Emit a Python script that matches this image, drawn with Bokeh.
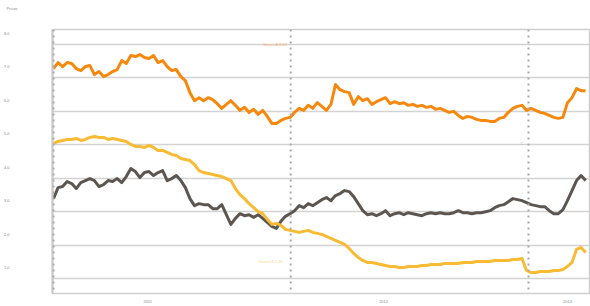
import pandas as pd
from bokeh.plotting import figure
from bokeh.models import Range1d, FixedTicker, Span, Label, Title
from bokeh.embed import file_html
from bokeh.resources import INLINE

# ---- data (weekly observations) ----
dates = pd.date_range("2011-01-01", periods=118, freq="7D")

orange = [7.28, 7.46, 7.34, 7.46, 7.43, 7.28, 7.22, 7.34, 7.37, 7.10,
          7.19, 7.04, 7.10, 7.19, 7.25, 7.52, 7.43, 7.67, 7.64, 7.70,
          7.61, 7.58, 7.67, 7.46, 7.52, 7.34, 7.22, 7.25, 7.04, 6.92,
          6.56, 6.32, 6.41, 6.32, 6.41, 6.35, 6.23, 6.09, 6.21, 6.32,
          6.18, 6.03, 6.12, 5.97, 6.06, 5.91, 6.03, 5.85, 5.64, 5.64,
          5.73, 5.79, 5.82, 5.97, 6.09, 6.03, 6.18, 6.09, 6.26, 6.15,
          6.03, 6.21, 6.80, 6.65, 6.59, 6.56, 6.21, 6.44, 6.32, 6.38,
          6.21, 6.29, 6.35, 6.41, 6.23, 6.29, 6.23, 6.26, 6.18, 6.21,
          6.15, 6.18, 6.12, 6.15, 6.06, 6.09, 6.03, 5.97, 6.00, 5.88,
          5.79, 5.85, 5.82, 5.76, 5.73, 5.73, 5.70, 5.70, 5.79, 5.82,
          5.97, 6.09, 6.15, 6.18, 6.03, 6.09, 6.03, 5.97, 5.94, 5.88,
          5.82, 5.79, 5.82, 6.26, 6.41, 6.68, 6.62, 6.62]

gold = [5.04, 5.10, 5.13, 5.16, 5.16, 5.19, 5.13, 5.16, 5.22, 5.25,
        5.22, 5.22, 5.16, 5.19, 5.16, 5.13, 5.10, 5.01, 4.95, 4.95,
        4.92, 4.98, 4.92, 4.83, 4.83, 4.77, 4.71, 4.68, 4.59, 4.56,
        4.53, 4.41, 4.23, 4.17, 4.14, 4.11, 4.08, 4.05, 3.99, 3.93,
        3.69, 3.51, 3.39, 3.24, 3.12, 3.00, 2.94, 2.77, 2.62, 2.65,
        2.59, 2.47, 2.44, 2.41, 2.38, 2.41, 2.44, 2.38, 2.35, 2.32,
        2.26, 2.20, 2.14, 2.08, 2.02, 1.90, 1.75, 1.63, 1.54, 1.48,
        1.48, 1.45, 1.42, 1.39, 1.36, 1.36, 1.33, 1.33, 1.36, 1.36,
        1.36, 1.39, 1.39, 1.42, 1.42, 1.42, 1.45, 1.45, 1.45, 1.45,
        1.48, 1.48, 1.48, 1.51, 1.51, 1.51, 1.51, 1.54, 1.54, 1.54,
        1.54, 1.57, 1.57, 1.60, 1.24, 1.18, 1.18, 1.21, 1.21, 1.21,
        1.24, 1.24, 1.27, 1.36, 1.48, 1.87, 1.93, 1.78]

gray = [3.39, 3.72, 3.75, 3.90, 3.84, 3.69, 3.87, 3.93, 3.99, 3.93,
        3.75, 3.81, 3.93, 3.90, 3.99, 3.87, 4.05, 4.29, 4.20, 4.02,
        4.17, 4.20, 4.08, 4.17, 4.23, 3.93, 3.99, 4.08, 3.93, 3.72,
        3.39, 3.18, 3.24, 3.21, 3.21, 3.09, 3.09, 3.21, 2.91, 2.62,
        2.80, 2.94, 2.88, 2.91, 2.83, 2.91, 2.80, 2.68, 2.56, 2.50,
        2.71, 2.86, 2.94, 3.03, 3.18, 3.12, 3.24, 3.18, 3.27, 3.36,
        3.42, 3.33, 3.48, 3.54, 3.63, 3.60, 3.45, 3.24, 3.03, 2.91,
        2.94, 2.88, 2.94, 3.03, 2.88, 2.94, 2.97, 2.91, 2.97, 2.94,
        2.91, 2.88, 2.94, 2.97, 2.94, 2.97, 2.94, 2.94, 2.97, 3.03,
        2.97, 2.97, 2.94, 2.97, 2.97, 3.00, 3.03, 3.12, 3.18, 3.21,
        3.30, 3.39, 3.36, 3.33, 3.27, 3.21, 3.18, 3.15, 3.15, 3.03,
        2.94, 2.94, 3.06, 3.33, 3.63, 3.93, 4.08, 3.93]

grid_values = [1, 2, 3, 4, 5, 6, 7, 8]
y_label_values = [1.33, 2.33, 3.33, 4.33, 5.33, 6.33, 7.33, 8.33]
y_label_texts = ["1.0", "2.0", "3.0", "4.0", "5.0", "6.0", "7.0", "8.0"]
x_label_dates = ["2011-05-26", "2012-05-23", "2013-03-02"]
x_label_texts = ["2011", "2012", "2013"]
year_starts = ["2011-01-01", "2012-01-01", "2013-01-01"]


def ms(d):
    return pd.Timestamp(d).value / 1e6


x_start = pd.Timestamp("2011-01-01") - pd.Timedelta(days=1.54)
x_end = x_start + pd.Timedelta(days=828)

p = figure(frame_width=538, frame_height=264, x_axis_type="datetime",
           output_backend="svg", toolbar_location=None,
           x_range=Range1d(x_start, x_end), y_range=Range1d(0.552, 8.449),
           min_border_left=44, min_border_right=0,
           min_border_top=29, min_border_bottom=4)

p.background_fill_color = "white"
p.border_fill_color = "white"
p.outline_line_color = "#cfcfcf"
p.outline_line_width = 1.5

p.title.text = "Prices"
p.title.text_font_size = "4px"
p.title.text_color = "#8a8a8a"
p.title.text_font_style = "normal"
p.title.align = "left"
p.title.offset = -46
p.title.standoff = 0

# spacer between title and frame
p.add_layout(Title(text="\u00a0", text_font_size="16px", standoff=0), "above")

p.xgrid.visible = False
p.ygrid.ticker = FixedTicker(ticks=grid_values)
p.ygrid.grid_line_color = "#d3d3d3"
p.ygrid.grid_line_width = 1.5

ya = p.yaxis[0]
ya.ticker = FixedTicker(ticks=y_label_values)
ya.major_label_overrides = {v: t for v, t in zip(y_label_values, y_label_texts)}
ya.axis_line_color = "#c8c8c8"
ya.axis_line_width = 2
ya.major_tick_line_color = None
ya.minor_tick_line_color = None
ya.major_tick_out = 0
ya.major_tick_in = 0
ya.minor_tick_out = 0
ya.minor_tick_in = 0
ya.major_label_text_font_size = "4px"
ya.major_label_text_color = "#8a8a8a"
ya.major_label_standoff = 43

xa = p.xaxis[0]
xa.ticker = FixedTicker(ticks=[ms(d) for d in x_label_dates])
xa.major_label_overrides = {ms(d): t for d, t in zip(x_label_dates, x_label_texts)}
xa.axis_line_color = None
xa.major_tick_line_color = None
xa.minor_tick_line_color = None
xa.major_tick_out = 0
xa.major_tick_in = 0
xa.minor_tick_out = 0
xa.minor_tick_in = 0
xa.major_label_text_font_size = "4px"
xa.major_label_text_color = "#8a8a8a"
xa.major_label_standoff = 6

for d in year_starts:
    p.add_layout(Span(location=ms(d), dimension="height", line_color="#a8a8a8",
                      line_dash="2 4", line_width=2))

p.line(dates, gray, line_color="#5d5650", line_width=3, line_join="round")
p.line(dates, gold, line_color="#f8bb33", line_width=3, line_join="round")
p.line(dates, orange, line_color="#f6880e", line_width=3, line_join="round")

p.add_layout(Label(x=ms("2011-11-20"), y=8.0, text="Series A  6.62",
                   text_font_size="4px", text_color="#f4b27a",
                   text_baseline="middle"))
p.add_layout(Label(x=ms("2011-11-13"), y=1.51, text="Series B  1.78",
                   text_font_size="4px", text_color="#f8d890",
                   text_baseline="middle"))
p.add_layout(Label(x=ms("2011-10-10"), y=1.51, text="·",
                   text_font_size="4px", text_color="#f8d890",
                   text_baseline="middle"))
p.add_layout(Label(x=ms("2012-12-20"), y=5.04, text="C",
                   text_font_size="4px", text_color="#b0b0b0",
                   text_baseline="middle"))

open("out.html", "w").write(file_html(p, INLINE))
